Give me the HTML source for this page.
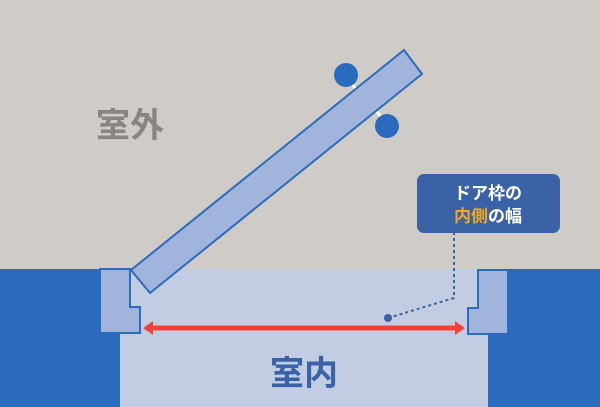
<!DOCTYPE html>
<html><head><meta charset="utf-8"><style>
body{margin:0;width:600px;height:407px;overflow:hidden;}
</style></head><body>
<svg width="600" height="407" xmlns="http://www.w3.org/2000/svg" style="display:block">
<rect width="600" height="407" fill="#cfcbc7"/>
<rect x="0" y="269" width="600" height="138" fill="#2b6bbd"/>
<rect x="120" y="269" width="368" height="138" fill="#c2cce3"/>
<rect x="130" y="269" width="348" height="64" fill="#c2cce3"/>
<polygon points="100,269 130,269 130,307 140,307 140,333 100,333" fill="#a0b4dc" stroke="#2b6bbd" stroke-width="2"/>
<polygon points="478,270 508,270 508,334 468,334 468,308 478,308" fill="#a0b4dc" stroke="#2b6bbd" stroke-width="2"/>
<line x1="348" y1="80" x2="386" y2="122" stroke="#fff" stroke-width="3"/>
<circle cx="346" cy="75" r="12" fill="#2b6bbd"/>
<circle cx="387" cy="126" r="12" fill="#2b6bbd"/>
<polygon points="131,270 404,50 422,74 150,293" fill="#a0b4dc" stroke="#2b6bbd" stroke-width="2"/>
<line x1="150" y1="328" x2="458" y2="328" stroke="#f44336" stroke-width="5"/>
<polygon points="143,328 153,321 153,335" fill="#f44336"/>
<polygon points="465,328 455,321 455,335" fill="#f44336"/>
<polyline points="388,318 454,298 454,233" fill="none" stroke="#3a62a6" stroke-width="2" stroke-dasharray="3,3"/>
<circle cx="388" cy="318" r="4" fill="#3a62a6"/>
<rect x="417" y="174" width="143" height="59" rx="7" fill="#3a62a6"/>
<text x="488" y="199" text-anchor="middle" font-family="Liberation Sans, Noto Sans CJK JP, sans-serif" font-weight="bold" font-size="17" fill="#fff">ドア枠の</text>
<text x="488" y="222" text-anchor="middle" font-family="Liberation Sans, Noto Sans CJK JP, sans-serif" font-weight="bold" font-size="17" fill="#fff"><tspan fill="#f5a623">内側</tspan>の幅</text>
<text x="130" y="137" text-anchor="middle" font-family="Liberation Sans, Noto Sans CJK JP, sans-serif" font-weight="bold" font-size="34" fill="#8a8580">室外</text>
<text x="304" y="385" text-anchor="middle" font-family="Liberation Sans, Noto Sans CJK JP, sans-serif" font-weight="bold" font-size="34" fill="#3a62a6">室内</text>
</svg>
</body></html>
